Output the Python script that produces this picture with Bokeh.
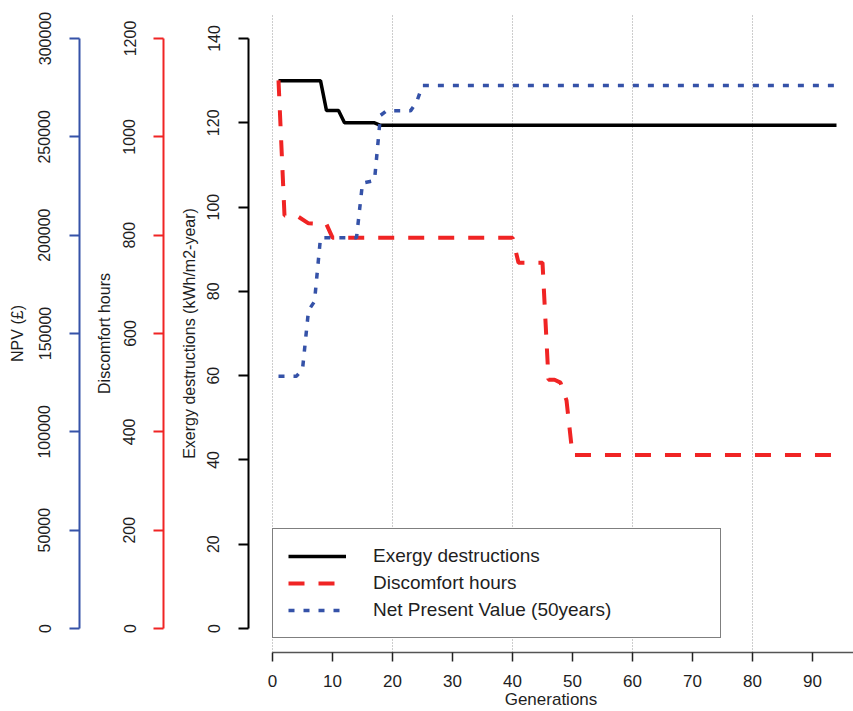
import math
from bokeh.plotting import figure
from bokeh.models import Range1d, FixedTicker, NumeralTickFormatter, Legend, LegendItem
from bokeh.layouts import row
from bokeh.embed import file_html
from bokeh.resources import INLINE

# ---------------- data ----------------
generations_exergy = [1, 8, 9, 11, 12, 17, 18, 94]
exergy_values = [130, 130, 122.9, 122.9, 120, 120, 119.4, 119.4]

generations_discomfort = [1, 2, 4, 6, 9, 10, 40, 41, 45, 46, 47, 48, 49, 50, 94]
discomfort_values = [1115, 840, 840, 824, 822, 795, 795, 744, 744, 506, 506, 500, 464, 353, 353]

generations_npv = [1, 4, 5, 6, 7, 8, 14, 15, 17, 18, 19, 23, 24, 25, 94]
npv_values = [128300, 128300, 131700, 161700, 166300, 198700, 198700, 226500,
              227800, 260900, 263200, 263200, 267500, 276100, 276100]

x_ticks = list(range(0, 101, 10))
grid_ticks = list(range(0, 101, 20))
exergy_ticks = list(range(0, 141, 20))
discomfort_ticks = list(range(0, 1201, 200))
npv_ticks = list(range(0, 300001, 50000))

legend_labels = ["Exergy destructions", "Discomfort hours", "Net Present Value (50years)"]
x_title = "Generations"
exergy_title = "Exergy destructions (kWh/m2-year)"
discomfort_title = "Discomfort hours"
npv_title = "NPV (\u00a3)"

# ---------------- styling ----------------
FONT = "Liberation Sans"
RED = "#f02424"
BLUE = "#3552a8"
TEXT = "#1e1e1e"
H = 711
TOP = 14
BOTTOM = 59

# y ranges: axis top value sits 24 px below frame top, zero 24 px above frame bottom
pad_frac = 24.0 / 590.0
exergy_range = Range1d(-140 * pad_frac, 140 * (1 + pad_frac))
disc_range = Range1d(-1200 * pad_frac, 1200 * (1 + pad_frac))
npv_range = Range1d(-300000 * pad_frac, 300000 * (1 + pad_frac))


def style_y(axis, color, ticks, title, label_standoff, title_standoff):
    axis.ticker = FixedTicker(ticks=ticks)
    axis.bounds = (ticks[0], ticks[-1])
    axis.axis_line_color = color
    axis.axis_line_width = 2
    axis.major_tick_line_color = color
    axis.major_tick_line_width = 2
    axis.major_tick_out = 10
    axis.major_tick_in = 0
    axis.minor_tick_line_color = None
    axis.major_label_orientation = "vertical"
    axis.major_label_text_font = FONT
    axis.major_label_text_font_size = "16px"
    axis.major_label_text_color = TEXT
    axis.major_label_standoff = label_standoff
    axis.axis_label = title
    axis.axis_label_text_font = FONT
    axis.axis_label_text_font_size = "16px"
    axis.axis_label_text_font_style = "normal"
    axis.axis_label_text_color = TEXT
    axis.axis_label_standoff = title_standoff


def side_figure(width, border_left, yr):
    f = figure(width=width, height=H, x_range=Range1d(0, 1), y_range=yr,
               x_axis_location=None, y_axis_location="left",
               min_border_left=border_left, min_border_right=0,
               min_border_top=TOP, min_border_bottom=BOTTOM,
               output_backend="svg", toolbar_location=None)
    f.grid.visible = False
    f.outline_line_color = None
    f.background_fill_color = "white"
    f.border_fill_color = "white"
    return f


# NPV axis figure (axis line at x = 79)
f_npv = side_figure(88, 79, npv_range)
style_y(f_npv.yaxis[0], BLUE, npv_ticks, npv_title, 19, 10)
f_npv.yaxis[0].formatter = NumeralTickFormatter(format="0")

# Discomfort axis figure (axis line at x = 163)
f_disc = side_figure(85, 75, disc_range)
style_y(f_disc.yaxis[0], RED, discomfort_ticks, discomfort_title, 18, 8)

# Main figure (frame from x = 248 to the right edge)
p = figure(width=680, height=H, x_range=Range1d(-4, -4 + 605 / 6.0), y_range=exergy_range,
           min_border_left=75, min_border_right=0, min_border_top=TOP, min_border_bottom=BOTTOM,
           output_backend="svg", toolbar_location=None)
p.extra_y_ranges = {"disc": disc_range, "npv": npv_range}
p.outline_line_color = None
p.background_fill_color = "white"
p.border_fill_color = "white"

style_y(p.yaxis[0], "black", exergy_ticks, exergy_title, 19, 7)

xa = p.xaxis[0]
xa.ticker = FixedTicker(ticks=x_ticks)
xa.bounds = (x_ticks[0], x_ticks[-1])
xa.axis_line_color = "#555555"
xa.axis_line_width = 1.5
xa.major_tick_line_color = "#222222"
xa.major_tick_line_width = 1.5
xa.major_tick_out = 9
xa.major_tick_in = 0
xa.minor_tick_line_color = None
xa.major_label_text_font = FONT
xa.major_label_text_font_size = "17px"
xa.major_label_text_color = TEXT
xa.major_label_standoff = 13
xa.axis_label = x_title
xa.axis_label_text_font = FONT
xa.axis_label_text_font_size = "17px"
xa.axis_label_text_font_style = "normal"
xa.axis_label_text_color = TEXT
xa.axis_label_standoff = 0

p.ygrid.visible = False
p.xgrid.ticker = FixedTicker(ticks=grid_ticks)
p.xgrid.grid_line_color = "#9a9a9a"
p.xgrid.grid_line_width = 1
p.xgrid.grid_line_dash = "1 2"

r_ex = p.line(generations_exergy, exergy_values, line_color="black", line_width=3.5)
r_dh = p.line(generations_discomfort, discomfort_values, y_range_name="disc",
              line_color=RED, line_width=4, line_dash="16 14")
r_npv = p.line(generations_npv, npv_values, y_range_name="npv",
               line_color=BLUE, line_width=3.5, line_dash="6 9")

legend = Legend(items=[LegendItem(label=legend_labels[0], renderers=[r_ex]),
                       LegendItem(label=legend_labels[1], renderers=[r_dh]),
                       LegendItem(label=legend_labels[2], renderers=[r_npv])],
                location=(24, 14), margin=0, padding=15, spacing=3,
                glyph_width=58, glyph_height=24, label_height=24, label_width=332,
                label_standoff=27, border_line_color="black", border_line_width=1,
                background_fill_color="white", background_fill_alpha=1,
                label_text_font=FONT, label_text_font_size="19px", label_text_color=TEXT)
p.add_layout(legend)

layout = row(f_npv, f_disc, p, spacing=0)

with open("out.html", "w", encoding="utf-8") as fh:
    fh.write(file_html(layout, INLINE))
